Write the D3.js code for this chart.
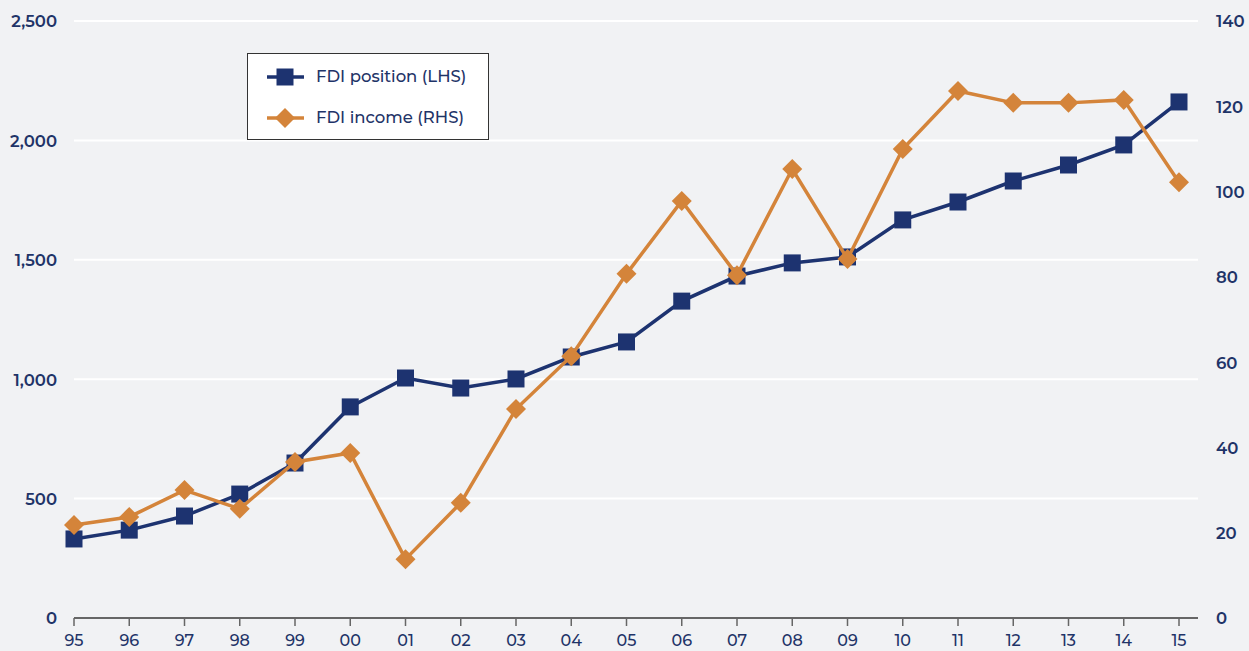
<!DOCTYPE html>
<html>
<head>
<meta charset="utf-8">
<script src="https://cdn.jsdelivr.net/npm/d3@7"></script>
<style>
  body { margin: 0; background: #f1f2f4; }
  svg { display: block; }
  text { font-family: Montserrat, "Open Sans", sans-serif; fill: #1f3468; }
</style>
</head>
<body>
<svg id="chart" width="1249" height="651"></svg>
<script>
// chart data
const years = ['95', '96', '97', '98', '99', '00', '01', '02', '03', '04', '05',
  '06', '07', '08', '09', '10', '11', '12', '13', '14', '15']
const fdiPosition = [331, 368, 427, 519, 649, 884, 1005, 963, 1001, 1093, 1156,
  1327, 1432, 1487, 1512, 1667, 1742, 1830, 1897, 1981, 2161]
const fdiIncome = [21.8, 23.7, 30.0, 25.6, 36.6, 38.7, 13.8, 27.0, 49.0, 61.4, 80.7,
  97.8, 80.4, 105.3, 84.2, 110.0, 123.6, 120.8, 120.8, 121.5, 102.2]
const leftTicks = [0, 500, 1000, 1500, 2000, 2500]
const rightTicks = [0, 20, 40, 60, 80, 100, 120, 140]
const seriesNames = ['FDI position (LHS)', 'FDI income (RHS)']

const navy = '#1d3370'
const orange = '#d4843a'

const svg = d3.select('#chart')
const plotLeft = 74
const plotRight = 1198
const plotTop = 21
const plotBottom = 618

const x = d3.scalePoint().domain(years).range([plotLeft, 1179])
const yL = d3.scaleLinear().domain([0, 2500]).range([plotBottom, plotTop])
const yR = d3.scaleLinear().domain([0, 140]).range([plotBottom, plotTop])

// gridlines
svg.append('g')
  .selectAll('line')
  .data(leftTicks.slice(1))
  .enter()
  .append('line')
  .attr('x1', plotLeft)
  .attr('x2', plotRight)
  .attr('y1', d => yL(d))
  .attr('y2', d => yL(d))
  .attr('stroke', '#ffffff')
  .attr('stroke-width', 2)

// left axis labels
svg.append('g')
  .selectAll('text')
  .data(leftTicks)
  .enter()
  .append('text')
  .attr('x', 57)
  .attr('y', d => yL(d) + 2)
  .attr('text-anchor', 'end')
  .attr('dominant-baseline', 'middle')
  .attr('font-size', 16.5)
  .attr('font-weight', 600)
  .text(d => d3.format(',')(d))

// right axis labels
svg.append('g')
  .selectAll('text')
  .data(rightTicks)
  .enter()
  .append('text')
  .attr('x', 1216)
  .attr('y', d => yR(d) + 2)
  .attr('text-anchor', 'start')
  .attr('dominant-baseline', 'middle')
  .attr('font-size', 16.5)
  .attr('font-weight', 600)
  .text(d => d)

// x axis
const xAxis = svg.append('g').attr('transform', `translate(0,${plotBottom})`)
xAxis.append('line')
  .attr('x1', plotLeft)
  .attr('x2', plotRight)
  .attr('stroke', '#666')
  .attr('stroke-width', 2)
xAxis.selectAll('.tick')
  .data(years)
  .enter()
  .append('line')
  .attr('class', 'tick')
  .attr('x1', d => x(d))
  .attr('x2', d => x(d))
  .attr('y1', 0)
  .attr('y2', 8)
  .attr('stroke', '#666')
  .attr('stroke-width', 1.5)
xAxis.selectAll('text')
  .data(years)
  .enter()
  .append('text')
  .attr('x', d => x(d))
  .attr('y', 24)
  .attr('text-anchor', 'middle')
  .attr('dominant-baseline', 'middle')
  .attr('font-size', 16)
  .attr('font-weight', 500)
  .text(d => d)

// lines + markers
function drawSeries (values, yScale, color, shape) {
  const pts = values.map((v, i) => [x(years[i]), yScale(v)])
  svg.append('path')
    .attr('d', d3.line()(pts))
    .attr('fill', 'none')
    .attr('stroke', color)
    .attr('stroke-width', 3.5)
  svg.append('g')
    .selectAll('path')
    .data(pts)
    .enter()
    .append('path')
    .attr('transform', d => `translate(${d[0]},${d[1]})`)
    .attr('d', shape)
    .attr('fill', color)
}

const squareShape = 'M-8.5,-8.5H8.5V8.5H-8.5Z'
const diamondShape = 'M0,-10L10,0L0,10L-10,0Z'

drawSeries(fdiPosition, yL, navy, squareShape)
drawSeries(fdiIncome, yR, orange, diamondShape)

// legend
const legend = svg.append('g')
legend.append('rect')
  .attr('x', 247.5)
  .attr('y', 53.5)
  .attr('width', 241)
  .attr('height', 86)
  .attr('fill', '#ffffff')
  .attr('stroke', '#333')
  .attr('stroke-width', 1)

const legendItems = [
  { name: seriesNames[0], color: navy, shape: squareShape, y: 77 },
  { name: seriesNames[1], color: orange, shape: diamondShape, y: 118 }
]
legendItems.forEach(item => {
  legend.append('line')
    .attr('x1', 267)
    .attr('x2', 304)
    .attr('y1', item.y)
    .attr('y2', item.y)
    .attr('stroke', item.color)
    .attr('stroke-width', 3.5)
  legend.append('path')
    .attr('transform', `translate(285,${item.y})`)
    .attr('d', item.shape)
    .attr('fill', item.color)
  legend.append('text')
    .attr('x', 316)
    .attr('y', item.y + 1)
    .attr('dominant-baseline', 'middle')
    .attr('font-size', 16.5)
    .attr('font-weight', 500)
    .text(item.name)
})
</script>
</body>
</html>
